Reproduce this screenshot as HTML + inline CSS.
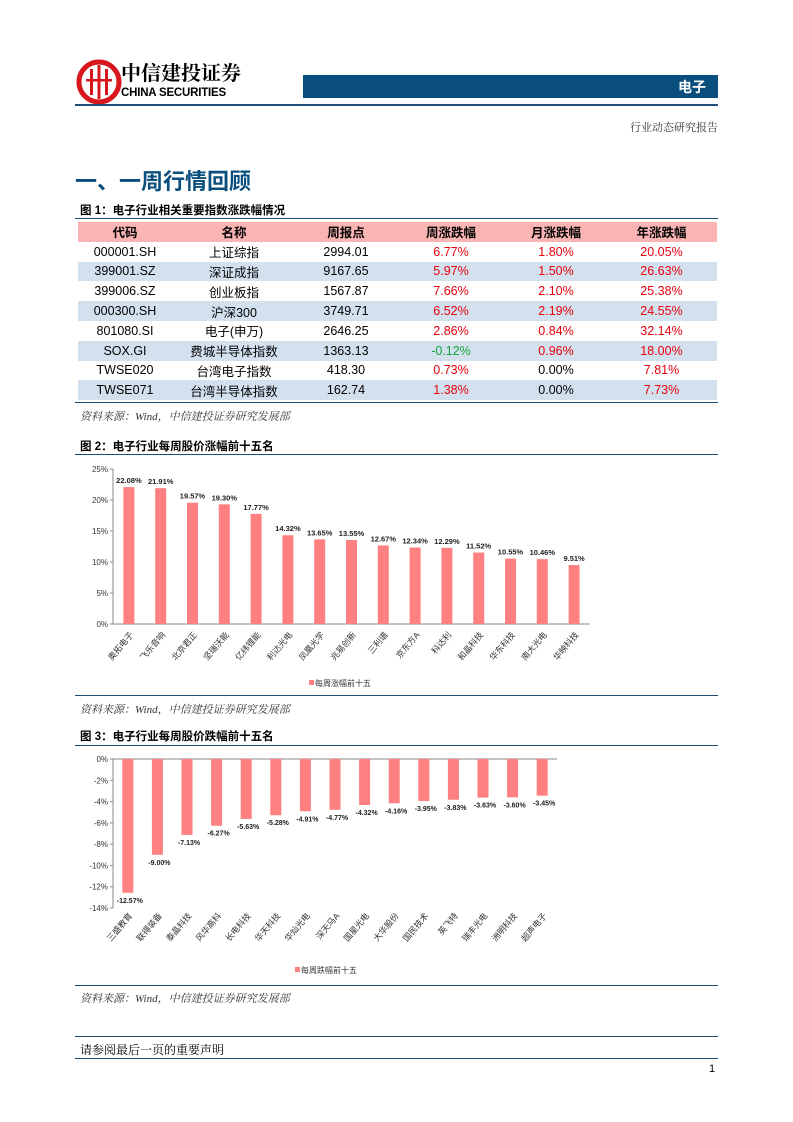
<!DOCTYPE html>
<html><head><meta charset="utf-8">
<style>
body{margin:0;background:#fff;}
#page{position:relative;width:793px;height:1122px;overflow:hidden;font-family:"Liberation Sans","Noto Sans CJK SC",sans-serif;color:#000;}
.abs{position:absolute;}
table{border-collapse:collapse;}
td{height:19.8px;padding:0;text-align:center;font-size:12.5px;}
.r{color:#e8000b}.g{color:#18a33c}
.cap{font-family:"Liberation Sans","Noto Sans CJK SC",sans-serif;font-size:11.5px;font-weight:bold;}
.src{font-family:"Liberation Serif","Noto Serif CJK SC",serif;font-size:11px;font-style:italic;color:#333;}
</style></head><body>
<div id="page">
<svg class="abs" style="left:76px;top:59px" width="46" height="46">
<circle cx="23" cy="23" r="20" fill="none" stroke="#d7161d" stroke-width="5"/>
<rect x="14" y="10" width="3" height="26" fill="#d7161d"/><rect x="21.5" y="6" width="3" height="34" fill="#d7161d"/><rect x="29" y="10" width="3" height="26" fill="#d7161d"/>
<rect x="10" y="20" width="26" height="2.5" fill="#d7161d"/></svg>
<div class="abs" style="left:121px;top:60px;font-size:20px;line-height:24px;font-weight:bold;font-family:'Noto Serif CJK SC',serif">中信建投证券</div>
<div class="abs" style="left:121px;top:87px;font-size:11.5px;line-height:13px;font-weight:bold;letter-spacing:-0.2px">CHINA SECURITIES</div>
<div class="abs" style="left:303px;top:75px;width:415px;height:23px;background:#0a4e7d"></div>
<div class="abs" style="left:678px;top:77px;font-size:14px;font-weight:bold;color:#fff">电子</div>
<div class="abs" style="left:75px;top:104px;width:643px;height:2px;background:#1f4e79"></div>
<div class="abs" style="left:630px;top:119px;font-size:11px;color:#333;font-family:'Noto Serif CJK SC',serif">行业动态研究报告</div>
<div class="abs" style="left:75px;top:164px;font-size:22px;font-weight:bold;color:#0a4e7d">一、一周行情回顾</div>
<div class="abs cap" style="left:80px;top:202px">图 1：电子行业相关重要指数涨跌幅情况</div>
<div class="abs" style="left:75px;top:218px;width:643px;height:1px;background:#1f4e79"></div>
<table class="abs" style="left:78px;top:222px;width:639px">
<tr style="background:#fbb4b4;font-weight:bold"><td style="width:94px">代码</td><td style="width:124px">名称</td><td style="width:100px">周报点</td><td style="width:110px">周涨跌幅</td><td style="width:100px">月涨跌幅</td><td>年涨跌幅</td></tr>
<tr><td>000001.SH</td><td>上证综指</td><td>2994.01</td><td class="r">6.77%</td><td class="r">1.80%</td><td class="r">20.05%</td></tr>
<tr style="background:#d3e1ee"><td>399001.SZ</td><td>深证成指</td><td>9167.65</td><td class="r">5.97%</td><td class="r">1.50%</td><td class="r">26.63%</td></tr>
<tr><td>399006.SZ</td><td>创业板指</td><td>1567.87</td><td class="r">7.66%</td><td class="r">2.10%</td><td class="r">25.38%</td></tr>
<tr style="background:#d3e1ee"><td>000300.SH</td><td>沪深300</td><td>3749.71</td><td class="r">6.52%</td><td class="r">2.19%</td><td class="r">24.55%</td></tr>
<tr><td>801080.SI</td><td>电子(申万)</td><td>2646.25</td><td class="r">2.86%</td><td class="r">0.84%</td><td class="r">32.14%</td></tr>
<tr style="background:#d3e1ee"><td>SOX.GI</td><td>费城半导体指数</td><td>1363.13</td><td class="g">-0.12%</td><td class="r">0.96%</td><td class="r">18.00%</td></tr>
<tr><td>TWSE020</td><td>台湾电子指数</td><td>418.30</td><td class="r">0.73%</td><td>0.00%</td><td class="r">7.81%</td></tr>
<tr style="background:#d3e1ee"><td>TWSE071</td><td>台湾半导体指数</td><td>162.74</td><td class="r">1.38%</td><td>0.00%</td><td class="r">7.73%</td></tr>
</table>
<div class="abs" style="left:75px;top:402px;width:643px;height:1px;background:#1f4e79"></div>
<div class="abs src" style="left:80px;top:408px">资料来源：Wind，中信建投证券研究发展部</div>
<div class="abs cap" style="left:80px;top:438px">图 2：电子行业每周股价涨幅前十五名</div>
<div class="abs" style="left:75px;top:454px;width:643px;height:1px;background:#1f4e79"></div>
<svg id="c2" class="abs" style="left:0;top:455px" width="793" height="240"></svg>
<div class="abs" style="left:75px;top:695px;width:643px;height:1px;background:#1f4e79"></div>
<div class="abs src" style="left:80px;top:701px">资料来源：Wind，中信建投证券研究发展部</div>
<div class="abs cap" style="left:80px;top:728px">图 3：电子行业每周股价跌幅前十五名</div>
<div class="abs" style="left:75px;top:745px;width:643px;height:1px;background:#1f4e79"></div>
<svg id="c3" class="abs" style="left:0;top:746px" width="793" height="238"></svg>
<div class="abs" style="left:75px;top:985px;width:643px;height:1px;background:#1f4e79"></div>
<div class="abs src" style="left:80px;top:990px">资料来源：Wind，中信建投证券研究发展部</div>
<div class="abs" style="left:75px;top:1036px;width:643px;height:1px;background:#1f4e79"></div>
<div class="abs" style="left:80px;top:1041px;font-size:12px;font-family:'Noto Serif CJK SC',serif">请参阅最后一页的重要声明</div>
<div class="abs" style="left:75px;top:1058px;width:643px;height:1px;background:#1f4e79"></div>
<div class="abs" style="left:709px;top:1063px;font-size:11px">1</div>
</div>
<script>
const cats2=["奥拓电子","飞乐音响","北京君正","坚瑞沃能","亿纬锂能","利达光电","凤凰光学","兆易创新","三利谱","京东方A","科达利","和晶科技","华东科技","南大光电","华映科技"];
const vals2=[22.08,21.91,19.57,19.30,17.77,14.32,13.65,13.55,12.67,12.34,12.29,11.52,10.55,10.46,9.51];
const ticks2=[0,5,10,15,20,25];
const cats3=["三盛教育","联得装备","泰晶科技","风华高科","长电科技","华天科技","华灿光电","深天马A","国星光电","大华股份","国民技术","英飞特","瑞丰光电","洲明科技","超声电子"];
const vals3=[-12.57,-9.00,-7.13,-6.27,-5.63,-5.28,-4.91,-4.77,-4.32,-4.16,-3.95,-3.83,-3.63,-3.60,-3.45];
const ticks3=[0,-2,-4,-6,-8,-10,-12,-14];
const NS="http://www.w3.org/2000/svg";
function mk(svg,tag,at,txt){const e=document.createElementNS(NS,tag);for(const k in at)e.setAttribute(k,at[k]);if(txt!==undefined)e.textContent=txt;svg.appendChild(e);return e;}
function chart(id,cats,vals,ticks,o){
 const svg=document.getElementById(id);
 const y=v=>o.y0-(v-o.vmin)/(o.vmax-o.vmin)*(o.y0-o.y1);
 const step=(o.x1-o.x0)/cats.length;
 mk(svg,'line',{x1:o.x0,y1:y(o.vmin),x2:o.x0,y2:y(o.vmax),stroke:'#888'});
 mk(svg,'line',{x1:o.x0,y1:y(0),x2:o.x1,y2:y(0),stroke:'#888'});
 ticks.forEach(t=>{
  mk(svg,'line',{x1:o.x0-3,y1:y(t),x2:o.x0,y2:y(t),stroke:'#888'});
  const tl=mk(svg,'text',{x:o.x0-5,y:y(t)+3,'text-anchor':'end','font-size':8,fill:'#333'},t+'%');
  
  
 });
 cats.forEach((c,i)=>{
  const cx=o.x0+step*(i+0.5),v=vals[i];
  const top=Math.min(y(v),y(0)),h=Math.abs(y(v)-y(0));
  const b=mk(svg,'rect',{x:cx-5.5,y:top,width:11,height:h,fill:'#ff8080'});
  
  
  const ly=v>=0?y(v)-4:y(v)+10;
  const l=mk(svg,'text',{x:v>=0?cx:cx+2,y:ly,'text-anchor':'middle','font-size':o.lfs,'font-weight':'bold',fill:'#222'},v.toFixed(2)+'%');
  
  
  const xl=mk(svg,'text',{transform:`translate(${cx+5},${o.xly}) rotate(-50)`,'text-anchor':'end','font-size':8.5,fill:'#333'},c);
  
  
 });
 mk(svg,'rect',{x:o.legx,y:o.legy-6,width:5,height:5,fill:'#ff8080'});
 const lg=mk(svg,'text',{x:o.legx+6,y:o.legy,'font-size':8,fill:'#333'},o.leg);
 
 
}
chart('c2',cats2,vals2,ticks2,{x0:113,x1:590,y0:169,y1:14,vmin:0,vmax:25,xly:180,lfs:7.5,legx:309,legy:231,leg:'每周涨幅前十五'});
chart('c3',cats3,vals3,ticks3,{x0:113,x1:557,y0:162,y1:13,vmin:-14,vmax:0,xly:170,lfs:7,legx:295,legy:227,leg:'每周跌幅前十五'});
</script>
</body></html>
